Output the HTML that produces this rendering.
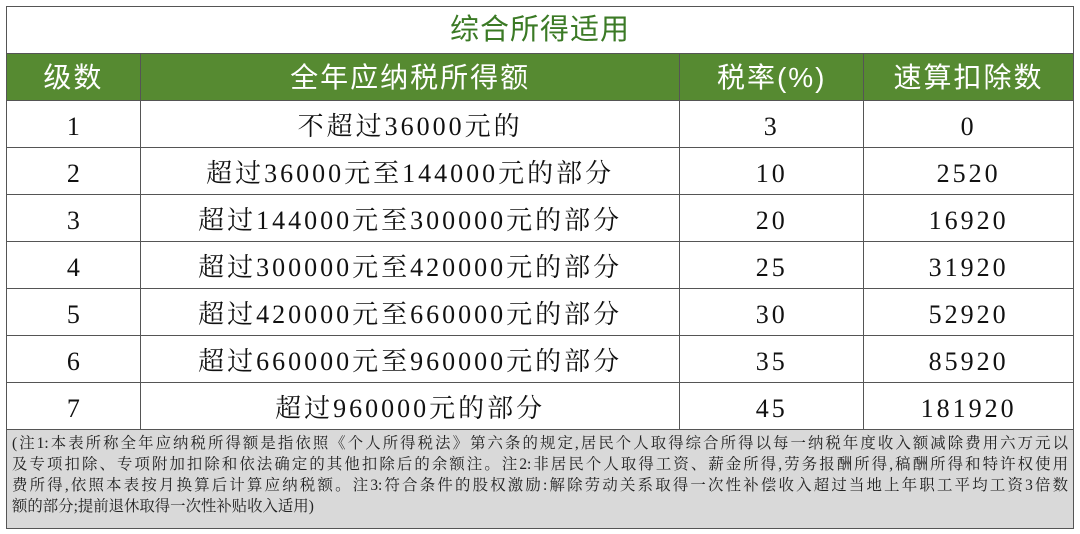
<!DOCTYPE html>
<html><head><meta charset="utf-8"><style>
body{margin:0;width:1080px;height:534px;background:#fff;position:relative;overflow:hidden}
table{position:absolute;left:6px;top:6px;width:1068px;border-collapse:collapse;font-family:"Liberation Serif","Noto Serif CJK SC",serif;}
td{border:1.5px solid #555;text-align:center;padding:5px 0 0 0;height:41px;font-size:26px;color:#111;line-height:1}
.m{letter-spacing:3px}
.t td{height:46px;padding:0;font-family:"Liberation Sans","Noto Sans CJK SC",sans-serif;color:#3b7a25;font-size:29px;letter-spacing:1px}
.h td{background:#568a31;color:#fff;padding:2px 0 0 0;font-family:"Liberation Sans","Noto Sans CJK SC",sans-serif;font-size:28px;letter-spacing:2px;height:44px}
.n td{background:#d9d9d9;height:95px;text-align:left;vertical-align:top;padding:3px 5px 0 5px;font-size:15.4px;line-height:21px;color:#222}
.l{display:block;text-align:justify;text-align-last:justify;white-space:nowrap}
.l.last{text-align-last:left}
</style></head><body>
<table>
<colgroup><col style="width:134px"><col style="width:540px"><col style="width:184px"><col style="width:210px"></colgroup>
<tr class="t"><td colspan="4">综合所得适用</td></tr>
<tr class="h"><td>级数</td><td>全年应纳税所得额</td><td>税率(%)</td><td>速算扣除数</td></tr>
<tr><td>1</td><td class="m">不超过36000元的</td><td class="m">3</td><td class="m">0</td></tr>
<tr><td>2</td><td class="m">超过36000元至144000元的部分</td><td class="m">10</td><td class="m">2520</td></tr>
<tr><td>3</td><td class="m">超过144000元至300000元的部分</td><td class="m">20</td><td class="m">16920</td></tr>
<tr><td>4</td><td class="m">超过300000元至420000元的部分</td><td class="m">25</td><td class="m">31920</td></tr>
<tr><td>5</td><td class="m">超过420000元至660000元的部分</td><td class="m">30</td><td class="m">52920</td></tr>
<tr><td>6</td><td class="m">超过660000元至960000元的部分</td><td class="m">35</td><td class="m">85920</td></tr>
<tr><td>7</td><td class="m">超过960000元的部分</td><td class="m">45</td><td class="m">181920</td></tr>
<tr class="n"><td colspan="4">
<span class="l">(注1:本表所称全年应纳税所得额是指依照《个人所得税法》第六条的规定,居民个人取得综合所得以每一纳税年度收入额减除费用六万元以</span>
<span class="l">及专项扣除、专项附加扣除和依法确定的其他扣除后的余额注。注2:非居民个人取得工资、薪金所得,劳务报酬所得,稿酬所得和特许权使用</span>
<span class="l">费所得,依照本表按月换算后计算应纳税额。注3:符合条件的股权激励:解除劳动关系取得一次性补偿收入超过当地上年职工平均工资3倍数</span>
<span class="l last">额的部分;提前退休取得一次性补贴收入适用)</span>
</td></tr>
</table>
</body></html>
